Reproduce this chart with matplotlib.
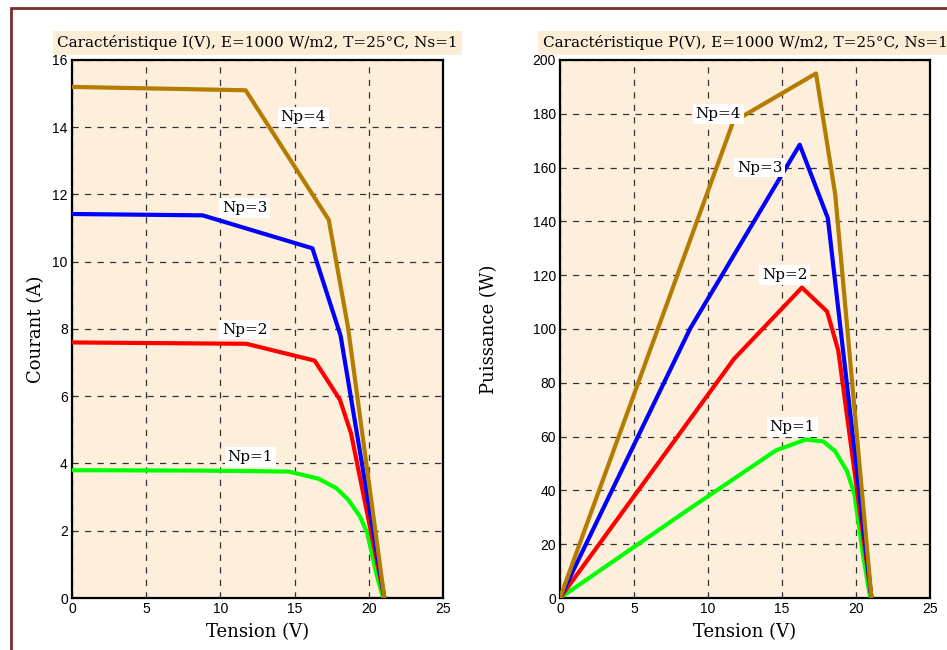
import matplotlib.pyplot as plt
from matplotlib.patches import Rectangle

# I(V) / P(V) curves, one per Np
v_np1 = [0, 8.6, 14.6, 16.6, 17.8, 18.6, 19.4, 19.9, 20.2, 20.5, 20.9, 21.0]
i_np1 = [3.80, 3.79, 3.76, 3.55, 3.27, 2.93, 2.43, 1.93, 1.33, 0.74, 0.10, 0.0]
p_np1 = [0, 32.6, 54.9, 58.9, 58.2, 54.5, 47.1, 38.4, 26.9, 15.2, 2.1, 0]

v_np2 = [0, 11.75, 16.35, 18.05, 18.8, 21.05]
i_np2 = [7.60, 7.56, 7.06, 5.90, 4.90, 0]
p_np2 = [0, 88.8, 115.4, 106.5, 92.1, 0]

v_np3 = [0, 8.8, 16.2, 18.1, 21.05]
i_np3 = [11.42, 11.38, 10.40, 7.80, 0]
p_np3 = [0, 100.2, 168.5, 141.2, 0]

v_np4 = [0, 11.7, 17.3, 18.6, 21.05]
i_np4 = [15.2, 15.1, 11.25, 8.05, 0]
p_np4 = [0, 177, 195, 150, 0]

labels = ["Np=1", "Np=2", "Np=3", "Np=4"]
colors = ["#00FF00", "#FF0000", "#0000FF", "#B47C00"]

# label anchor points (V, value)
iv_label_pos = [(12.0, 4.2), (11.65, 7.98), (11.65, 11.6), (15.6, 14.3)]
pv_label_pos = [(15.7, 63.6), (15.2, 120), (13.5, 160), (10.7, 180)]

bg = "#FDEFDB"
serif = "DejaVu Serif"

fig = plt.figure(figsize=(9.47, 6.5), dpi=100)
fig.patch.set_facecolor("white")
fig.patches.append(Rectangle((11 / 947, -0.1), 1.2, 1 - 8 / 650 + 0.1,
                             transform=fig.transFigure, fill=False,
                             edgecolor="#7A2E2E", linewidth=2))

ax1 = fig.add_axes([0.0760, 0.0800, 0.3918, 0.8277])
ax2 = fig.add_axes([0.5913, 0.0800, 0.3907, 0.8277])

curves_v = [v_np1, v_np2, v_np3, v_np4]
curves_i = [i_np1, i_np2, i_np3, i_np4]
curves_p = [p_np1, p_np2, p_np3, p_np4]

for k in range(4):
    ax1.plot(curves_v[k], curves_i[k], color=colors[k], linewidth=3, zorder=3)
    ax2.plot(curves_v[k], curves_p[k], color=colors[k], linewidth=3, zorder=3)
    for ax, pos in ((ax1, iv_label_pos[k]), (ax2, pv_label_pos[k])):
        ax.text(pos[0], pos[1], labels[k], ha="center", va="center",
                family=serif, fontsize=11, zorder=4,
                bbox=dict(facecolor="white", edgecolor="none", pad=2))

ax1.set_ylim(0, 16)
ax1.set_yticks(range(0, 17, 2))
ax2.set_ylim(0, 200)
ax2.set_yticks(range(0, 201, 20))

titles = ["Caractéristique I(V), E=1000 W/m2, T=25°C, Ns=1",
          "Caractéristique P(V), E=1000 W/m2, T=25°C, Ns=1"]
ylabels = ["Courant (A)", "Puissance (W)"]
ylabel_x = [-0.073, -0.168]

for ax, title, ylab, lx in zip((ax1, ax2), titles, ylabels, ylabel_x):
    ax.set_facecolor(bg)
    ax.set_xlim(0, 25)
    ax.set_xticks(range(0, 26, 5))
    ax.grid(True, color="#333333", linestyle=(0, (5, 5)), linewidth=0.9)
    ax.set_axisbelow(True)
    for s in ax.spines.values():
        s.set_linewidth(1.6)
    ax.tick_params(direction="in", length=0, pad=3)
    for lab in ax.get_xticklabels() + ax.get_yticklabels():
        lab.set_family("Liberation Sans")
        lab.set_fontsize(10)
    ax.set_xlabel("Tension (V)", family=serif, fontsize=13, labelpad=5)
    ax.set_ylabel(ylab, family=serif, fontsize=13)
    ax.yaxis.set_label_coords(lx, 0.5)
    ax.set_title(title, family=serif, fontsize=11, pad=9,
                 bbox=dict(facecolor="#FCEDD6", edgecolor="none", pad=3))

fig.savefig("out.png", dpi=100)
